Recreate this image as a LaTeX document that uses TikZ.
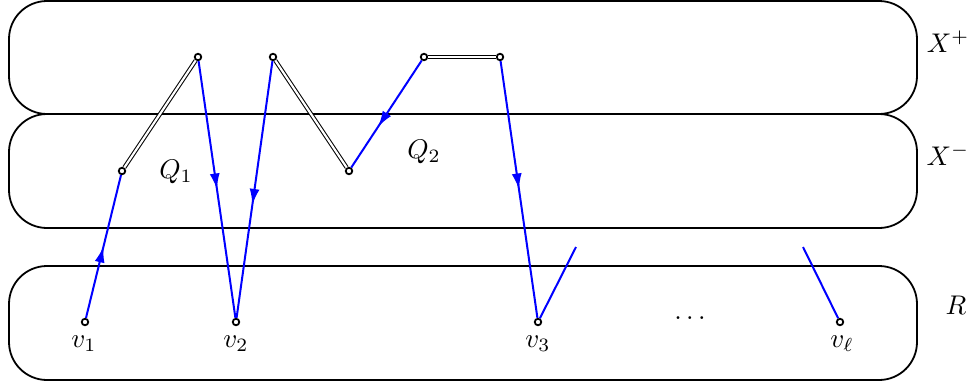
\documentclass[tikz,border=0pt]{standalone}
\usetikzlibrary{arrows.meta,decorations.markings}
\begin{document}
\begin{tikzpicture}[x=1pt,y=-1pt,
  region/.style={draw, line width=1.8pt, rounded corners=38pt},
  vtx/.style={circle, draw, line width=1.8pt, fill=white, inner sep=0pt, minimum size=6.5pt},
  pth/.style={blue, line width=2pt},
  arr/.style={pth, postaction={decorate}, decoration={markings, mark=at position #1 with {\arrow{Latex[length=16pt,width=10pt]}}}},
  arr/.default=0.55,
  dbl/.style={double, line width=1pt, double distance=2.2pt},
  lbl/.style={scale=2.7, inner sep=0pt}
]
\useasboundingbox (0,0) rectangle (977,383);
% regions
\draw[region] (9,1) rectangle (917,114);
\draw[region] (9,114) rectangle (917,228);
\draw[region] (9,266) rectangle (917,380);
\node[lbl] (lXp) at (948,42) {$X^+$};
\node[lbl] (lXm) at (948,155) {$X^-$};
\node[lbl] (lR) at (956,305) {$R$};
% vertices
\node[vtx] (v1) at (85,322) {};
\node[vtx] (v2) at (236,322) {};
\node[vtx] (v3) at (538,322) {};
\node[vtx] (vl) at (840,322) {};
\node[vtx] (a) at (122,171) {};
\node[vtx] (b) at (198,57) {};
\node[vtx] (c) at (273,57) {};
\node[vtx] (d) at (349,171) {};
\node[vtx] (e) at (424,57) {};
\node[vtx] (f) at (500,57) {};
\coordinate (g3) at (576,247);
\coordinate (gl) at (803,247);
% labels
\node[lbl] (tv1) at (84,344) {$v_1$};
\node[lbl] (tv2) at (236,344) {$v_2$};
\node[lbl] (tv3) at (538,344) {$v_3$};
\node[lbl] (tvl) at (842,344) {$v_\ell$};
\node[lbl] (dots) at (690,318) {$\dots$};
\node[lbl] (q1) at (176,172) {$Q_1$};
\node[lbl] (q2) at (424,152) {$Q_2$};
% double edges
\draw[dbl] (a) -- (b);
\draw[dbl] (c) -- (d);
\draw[dbl] (e) -- (f);
% blue paths
\draw[arr=0.5] (v1) -- (a);
\draw[arr=0.5] (b) -- (v2);
\draw[arr=0.56] (c) -- (v2);
\draw[arr=0.62] (e) -- (d);
\draw[arr=0.5] (f) -- (v3);
\draw[pth] (v3) -- (g3);
\draw[pth] (vl) -- (gl);
\end{tikzpicture}
\end{document}
